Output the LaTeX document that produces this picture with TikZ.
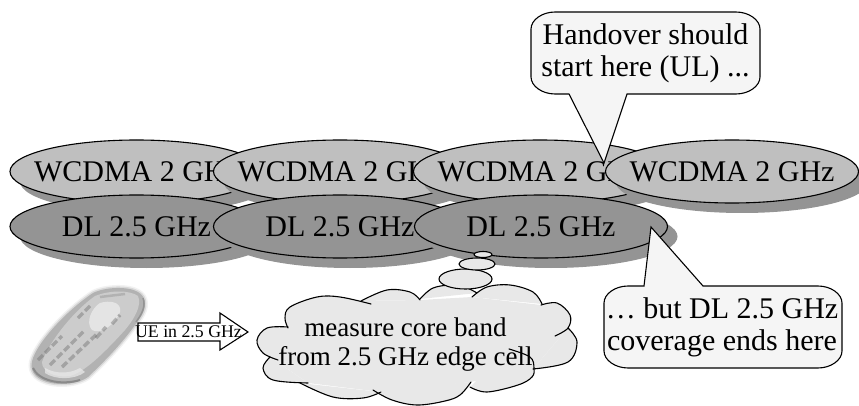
\documentclass[tikz,border=0pt]{standalone}
\usepackage{fontspec}
\setmainfont{Liberation Serif}
\usetikzlibrary{shapes.geometric,shadows}
\definecolor{cellA}{gray}{0.75}
\definecolor{cellB}{gray}{0.58}
\definecolor{shade}{gray}{0.58}
\definecolor{callfill}{gray}{0.96}
\definecolor{cloudfill}{gray}{0.91}
\newcommand{\bigfont}{\fontsize{30}{32}\selectfont}
\newcommand{\midfont}{\fontsize{27}{29}\selectfont}
\newcommand{\smallfont}{\fontsize{17.8}{20}\selectfont}
\tikzset{
  cellshape/.style={ellipse,draw=black,line width=1.1pt,inner sep=0pt,minimum width=253pt,minimum height=63pt,
    general shadow={shadow xshift=10pt,shadow yshift=-10pt,fill=shade}},
  celllabel/.style={font=\bigfont,inner sep=0pt},
  wcdma/.style={cellshape,fill=cellA},
  dlcell/.style={cellshape,fill=cellB},
  bubble/.style={ellipse,draw=black,line width=1.1pt,fill=cloudfill,inner sep=0pt},
  callout/.style={draw=black,line width=1.1pt,fill=callfill,line join=miter},
  calltext/.style={font=\bigfont,align=center,inner sep=0pt},
  lobeline/.style={draw=black,line width=1.1pt,line cap=round},
  keyline/.style={line width=3.5pt,draw=black!55,dash pattern=on 7pt off 3pt,opacity=.45}
}
\newcommand{\lobeA}{(288,328)(285,318)(290,307)(317,297)(340,297)(371,304)}
\newcommand{\lobeB}{(361,301)(387,290)(410,292)(420,300)}
\newcommand{\lobeC}{(420,299)(433,288)(453,285)(467,288)(477,293)}
\newcommand{\lobeD}{(472,297)(487,287)(510,285)(533,292)(542,304)}
\newcommand{\lobeE}{(541,305)(557,303)(570,315)(568,328)(555,336)}
\newcommand{\lobeF}{(568,328)(577,342)(568,362)(533,369)}
\newcommand{\lobeG}{(509,349)(530,357)(534,368)(532,377)(518,385)(487,392)(470,387)}
\newcommand{\lobeH}{(373,390)(392,400)(417,405)(445,401)(460,395)(471,382)}
\newcommand{\lobeI}{(300,383)(333,397)(363,398)(381,392)}
\newcommand{\lobeJ}{(270,357)(263,368)(273,380)(308,383)}
\newcommand{\lobeK}{(288,327)(267,328)(257,340)(263,353)(278,360)}
\newcommand{\phoneshape}{(93,293) .. controls (105,287) and (128,286) .. (138,292) .. controls (147,297) and (147,308) .. (140,318) .. controls (125,340) and (108,358) .. (88,377) .. controls (75,386) and (48,387) .. (36,376) .. controls (28,368) and (31,358) .. (42,342) .. controls (55,324) and (75,305) .. (93,293) -- cycle}
\begin{document}
\begin{tikzpicture}[x=1pt,y=-1pt]
\useasboundingbox (0,0) rectangle (859,406);
% coverage cells
\begin{scope}
\clip (0,0) rectangle (859,406);
\node[wcdma,label={[celllabel]center:WCDMA 2 GHz}] (w1) at (136.5,171.5) {};
\node[wcdma,label={[celllabel]center:WCDMA 2 GHz}] (w2) at (340,171.5) {};
\node[wcdma,label={[celllabel]center:WCDMA 2 GHz}] (w3) at (540,171.5) {};
\node[wcdma,label={[celllabel]center:WCDMA 2 GHz}] (w4) at (732,171.5) {};
\node[dlcell,label={[celllabel]center:DL 2.5 GHz}] (d1) at (136.5,226.5) {};
\node[dlcell,label={[celllabel]center:DL 2.5 GHz}] (d2) at (340,226.5) {};
\node[dlcell,label={[celllabel]center:DL 2.5 GHz}] (d3) at (541,226.5) {};
\end{scope}
% phone
\draw[line width=6pt,draw=black!5,line join=round] \phoneshape;
\draw[line width=3pt,draw=black!15,line join=round] \phoneshape;
\fill[black!30] \phoneshape;
\fill[black!20] (95,296) .. controls (110,290) and (130,290) .. (138,296) .. controls (142,305) and (135,318) .. (125,330) .. controls (105,352) and (85,372) .. (70,376) .. controls (55,378) and (42,372) .. (42,362) .. controls (50,340) and (75,310) .. (95,296) -- cycle;
\fill[black!8,opacity=.8] (100,303) .. controls (110,300) and (122,302) .. (120,312) .. controls (115,325) and (100,335) .. (92,330) .. controls (85,322) and (92,308) .. (100,303) -- cycle;
\fill[black!8,opacity=.7] (45,373) .. controls (55,380) and (75,380) .. (85,372) -- (80,368) .. controls (70,374) and (55,374) .. (45,368) -- cycle;
\draw[line width=2pt,draw=black!50,opacity=.8] (33,368) .. controls (38,380) and (60,386) .. (80,380);
\draw[line width=1.5pt,draw=black!45,opacity=.8] (143,298) .. controls (146,306) and (142,314) .. (136,322);
\draw[keyline] (38,360) -- (62,336);
\draw[keyline] (50,365) -- (84,331);
\draw[keyline] (62,367) -- (98,333);
\draw[keyline] (78,318) -- (90,306);
\draw[keyline] (96,338) -- (106,327);
\draw[keyline] (112,324) -- (120,315);
\draw[line width=2.5pt,draw=black!40,opacity=.5] (100,297) -- (125,294);
% thought-cloud
\fill[cloudfill] (288,328) -- (361,301) -- (420,300) -- (472,297) -- (541,305) -- (568,328) -- (533,369) -- (471,382) -- (381,392) -- (308,383) -- (270,357) -- cycle;
\foreach \lobe in {\lobeA,\lobeB,\lobeC,\lobeD,\lobeE,\lobeF,\lobeG,\lobeH,\lobeI,\lobeJ,\lobeK}{
  \fill[cloudfill] plot[smooth,tension=.6] coordinates {\lobe} -- cycle;
}
\foreach \lobe in {\lobeA,\lobeB,\lobeC,\lobeD,\lobeE,\lobeF,\lobeG,\lobeH,\lobeI,\lobeJ,\lobeK}{
  \draw[lobeline] plot[smooth,tension=.6] coordinates {\lobe};
}
\node[bubble,minimum width=53pt,minimum height=20pt] (b3) at (465.5,279) {};
\node[bubble,minimum width=36pt,minimum height=12pt] (b2) at (477,264) {};
\node[bubble,minimum width=18pt,minimum height=6pt] (b1) at (483,254.5) {};
\node[font=\midfont,align=center,inner sep=0pt] (cloudtext) at (405.5,345) {measure core band\\from 2.5 GHz edge cell};
% UE arrow
\draw[black,line width=1.1pt,fill=white,line join=miter] (138,323) -- (220,323) -- (220,313) -- (248,332) -- (220,350) -- (220,341) -- (138,341) -- cycle;
\node[font=\smallfont,inner sep=0pt] (ue) at (188.5,332) {UE in 2.5 GHz};
% callouts
\draw[callout] (569,94) -- (604,163) -- (627,94) -- (736,94) .. controls (749,94) and (760,86) .. (760,77) -- (760,29) .. controls (760,20) and (749,12) .. (736,12) -- (555,12) .. controls (542,12) and (531,20) .. (531,29) -- (531,77) .. controls (531,86) and (542,94) .. (555,94) -- cycle;
\node[calltext] (c1) at (645.5,53) {Handover should\\start here (UL) ...};
\draw[callout] (644,286) -- (651,227) -- (703,286) -- (818,286) .. controls (831,286) and (842,294) .. (842,303) -- (842,351) .. controls (842,360) and (831,368) .. (818,368) -- (628,368) .. controls (615,368) and (604,360) .. (604,351) -- (604,303) .. controls (604,294) and (615,286) .. (628,286) -- cycle;
\node[calltext] (c2) at (722,327) {… but DL 2.5 GHz\\coverage ends here};
\end{tikzpicture}
\end{document}
